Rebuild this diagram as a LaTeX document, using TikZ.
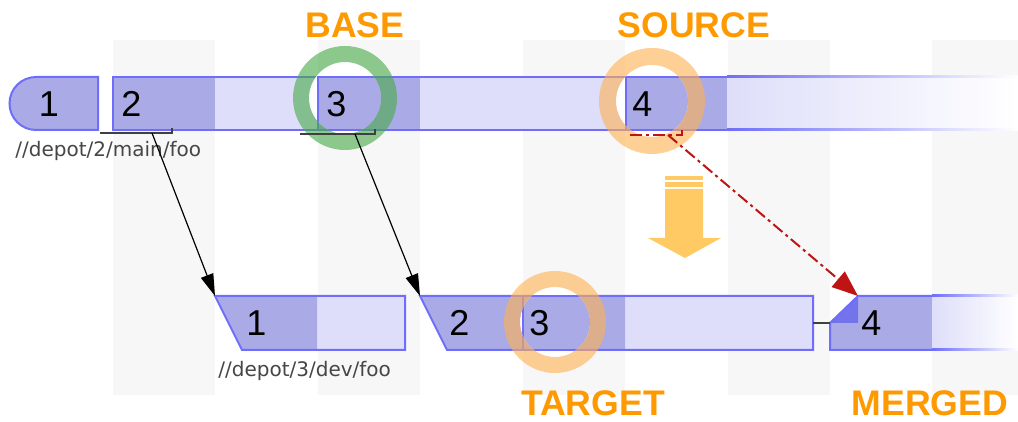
\documentclass[tikz,border=0pt]{standalone}
\usepackage{fontspec}
\setmainfont{Liberation Sans}
\newfontfamily\pathfont{DejaVu Sans}
\usetikzlibrary{arrows.meta}

\definecolor{stripegray}{RGB}{247,247,247}
\definecolor{segdark}{RGB}{170,170,230}
\definecolor{seglight}{RGB}{222,222,250}
\definecolor{segline}{RGB}{110,110,250}
\definecolor{segcorner}{RGB}{115,115,235}
\definecolor{tagorange}{RGB}{255,153,0}
\definecolor{hintorange}{RGB}{255,202,100}
\definecolor{mergered}{RGB}{190,20,20}
\definecolor{basegreen}{RGB}{70,170,70}
\definecolor{ringorange}{RGB}{255,178,80}
\definecolor{pathgray}{RGB}{70,70,70}

\tikzset{
  stripe/.style={
    fill=stripegray
  },
  frame/.style={
    draw=segline,
    line width=1pt
  },
  rev/.style={
    font=\fontsize{18}{20}\selectfont,
    inner sep=0pt,
    anchor=west
  },
  depot/.style={
    font=\pathfont\fontsize{10}{12}\selectfont,
    text=pathgray,
    inner sep=0pt,
    anchor=base west
  },
  tag/.style={
    font=\fontsize{17.8}{20}\selectfont\bfseries,
    text=tagorange
  },
  ring/.style={
    even odd rule,
    fill opacity=0.6
  },
  hint/.style={
    fill=hintorange
  },
  foot/.style={
    draw=black!75,
    line width=0.6pt
  },
  mergefoot/.style={
    draw=mergered,
    line width=1pt,
    dash pattern=on 6pt off 2pt on 1.5pt off 2pt
  },
  branch/.style={
    draw=black,
    line width=0.6pt,
    -{Triangle[length=11pt,width=6.5pt]}
  },
  merge/.style={
    mergefoot,
    -{Triangle[length=13pt,width=10pt]}
  },
}

\begin{document}
\begin{tikzpicture}[x=0.5pt, y=-0.5pt]
  \useasboundingbox[fill=white] (0,0) rectangle (1018,422);

  % Column stripes
  \foreach \a/\b in {113/215, 318/420, 523/625, 728/830, 932/1018}
    \fill[stripe] (\a,40) rectangle (\b,395);

  % Main line
  \draw[frame, fill=segdark] (98,77) -- (36,77)
    arc[start angle=270, end angle=90, radius=26.5] -- (98,130) -- cycle;
  \fill[seglight] (113,77) rectangle (727,130);
  \foreach \a/\b in {113/215, 318/420, 626/727}
    \fill[segdark] (\a,77) rectangle (\b,130);
  \shade[left color=seglight, right color=white] (727,77) rectangle (1018,130);
  \draw[frame] (727,77) -| (113,130) -- (727,130);
  \draw[frame] (318,77) -- (318,130) (626,77) -- (626,130);
  \shade[left color=segline, right color=white] (727,76) rectangle (1018,78);
  \shade[left color=segline, right color=white] (727,129) rectangle (1018,131);

  % Dev line
  \fill[seglight] (215,296) -- (405,296) -- (405,350) -- (242,350) -- cycle;
  \fill[segdark] (215,296) -- (317,296) -- (317,350) -- (242,350) -- cycle;
  \draw[frame] (215,296) -- (405,296) -- (405,350) -- (242,350) -- cycle;
  \fill[seglight] (420,296) -- (813,296) -- (813,350) -- (447,350) -- cycle;
  \fill[segdark] (420,296) -- (625,296) -- (625,350) -- (447,350) -- cycle;
  \draw[frame] (420,296) -- (813,296) -- (813,350) -- (447,350) -- cycle;
  \draw[frame] (523,296) -- (523,350);

  % Merged revision
  \fill[segdark] (830,323) -- (858,296) -- (932,296) -- (932,350) -- (830,350) -- cycle;
  \shade[left color=seglight, right color=white] (932,296) rectangle (1018,350);
  \fill[segcorner] (830,323) -- (858,296) -- (858,323) -- cycle;
  \draw[frame] (932,296) -- (858,296) -- (830,323) -- (830,350) -- (932,350);
  \shade[left color=segline, right color=white] (932,295) rectangle (1018,297);
  \shade[left color=segline, right color=white] (932,349) rectangle (1018,351);

  % Highlight rings: clear the inside, then bring the picked revision back
  \fill[white] (345,98) circle[radius=36];
  \fill[white] (652,101) circle[radius=36];
  \fill[white] (555,322) circle[radius=35];
  \begin{scope}
    \clip (345,98) circle[radius=36];
    \fill[segdark] (318,77) rectangle (420,130);
    \draw[frame] (420,77) -- (318,77) -- (318,130) -- (420,130);
  \end{scope}
  \begin{scope}
    \clip (652,101) circle[radius=36];
    \fill[segdark] (626,77) rectangle (727,130);
    \draw[frame] (727,77) -- (626,77) -- (626,130) -- (727,130);
  \end{scope}
  \begin{scope}
    \clip (555,322) circle[radius=35];
    \fill[segdark] (523,296) rectangle (625,350);
    \draw[frame] (625,296) -- (523,296) -- (523,350) -- (625,350);
  \end{scope}
  \fill[ring, fill=basegreen] (345,98) circle[radius=52] (345,98) circle[radius=36];
  \fill[ring, fill=ringorange] (652,101) circle[radius=53] (652,101) circle[radius=36];
  \fill[ring, fill=ringorange] (555,322) circle[radius=51] (555,322) circle[radius=35];

  % Revisions
  \node[rev, anchor=center] (m1) at (49,104) {1};
  \node[rev] (m2) at (121,104) {2};
  \node[rev] (m3) at (326,104) {3};
  \node[rev] (m4) at (632,104) {4};
  \node[rev] (d1) at (246,323) {1};
  \node[rev] (d2) at (449,323) {2};
  \node[rev] (d3) at (529,323) {3};
  \node[rev] (d4) at (861,323) {4};

  % Depot paths
  \node[depot] (mainpath) at (15,157) {//depot/2/main/foo};
  \node[depot] (devpath) at (218,377) {//depot/3/dev/foo};

  % Titles
  \node[tag] (base) at (355,25) {BASE};
  \node[tag] (source) at (694,25) {SOURCE};
  \node[tag] (target) at (593,403) {TARGET};
  \node[tag] (merged) at (930,403) {MERGED};

  % Branch and merge links
  \coordinate (m2out) at (152,133);
  \coordinate (m3out) at (355,134);
  \coordinate (m4out) at (668,135);
  \coordinate (d1in) at (215,296);
  \coordinate (d2in) at (420,296);
  \coordinate (d4in) at (858,296);
  \coordinate (dtie) at (813,323);
  \coordinate (d4tie) at (830,323);

  \draw[foot] (100,133) -| (172,128);
  \draw[foot] (300,134) -| (375,129);
  \draw[mergefoot] (630,135) -| (682,130);
  \draw[branch] (m2out) -- (d1in);
  \draw[branch] (m3out) -- (d2in);
  \draw[merge] (m4out) -- (d4in);
  \draw[foot, line width=1pt] (dtie) -- (d4tie);

  % Merge hint
  \fill[hint] (665,176) rectangle (703,180);
  \fill[hint] (665,182) rectangle (703,187);
  \fill[hint] (665,189) -- (703,189) -- (703,238) -- (721,238)
    -- (685,258) -- (648,238) -- (665,238) -- cycle;

\end{tikzpicture}
\end{document}
